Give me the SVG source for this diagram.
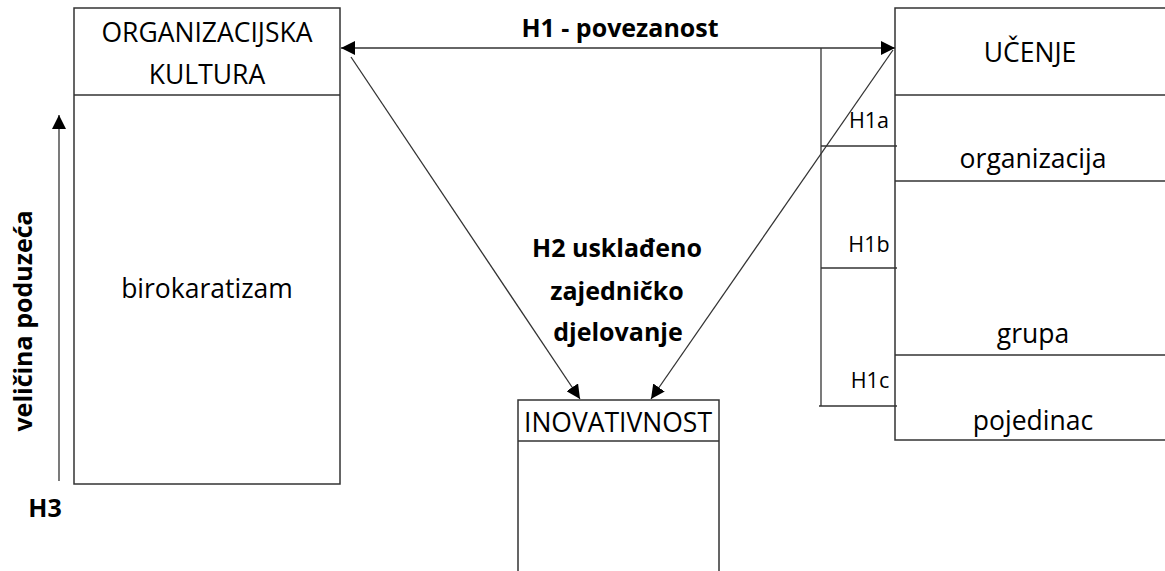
<svg xmlns="http://www.w3.org/2000/svg" width="1165" height="571" viewBox="0 0 1165 571">
<style>
.box{fill:#fff;stroke:#333;stroke-width:1.5}
.ln{stroke:#333;stroke-width:1.3;fill:none}
.t{font-family:"Open Sans","Liberation Sans",sans-serif;font-size:26.5px;fill:#000;text-anchor:middle}
.b{font-weight:bold;font-size:25px}
.s{font-size:21.5px}
</style>
<defs>
<marker id="ah" viewBox="0 0 10 10" refX="10" refY="5" markerWidth="14" markerHeight="14" markerUnits="userSpaceOnUse" orient="auto-start-reverse">
<path d="M0,0 L10,5 L0,10 z" fill="#000"/>
</marker>
</defs>
<g id="org-kultura">
<rect class="box" x="74" y="8" width="266" height="476"/>
<line class="ln" x1="74" y1="95" x2="340" y2="95"/>
<text class="t" x="207" y="42">ORGANIZACIJSKA</text>
<text class="t" x="207" y="84">KULTURA</text>
<text class="t" x="207" y="298">birokaratizam</text>
</g>
<g id="ucenje">
<rect class="box" x="895" y="8" width="275" height="432"/>
<line class="ln" x1="895" y1="95" x2="1165" y2="95"/>
<line class="ln" x1="895" y1="181" x2="1165" y2="181"/>
<line class="ln" x1="895" y1="355" x2="1165" y2="355"/>
<text class="t" x="1030" y="62">UČENJE</text>
<text class="t" x="1033" y="168">organizacija</text>
<text class="t" x="1033" y="343">grupa</text>
<text class="t" x="1033" y="430">pojedinac</text>
</g>
<g id="inovativnost">
<rect class="box" x="518" y="400" width="201" height="180"/>
<line class="ln" x1="518" y1="441" x2="719" y2="441"/>
<text class="t" x="618" y="432">INOVATIVNOST</text>
</g>
<g id="connectors">
<line class="ln" x1="341" y1="48" x2="895" y2="48" marker-start="url(#ah)" marker-end="url(#ah)"/>
<line class="ln" x1="351" y1="57" x2="580" y2="399" marker-end="url(#ah)"/>
<line class="ln" x1="893" y1="50" x2="651" y2="399" marker-end="url(#ah)"/>
<line class="ln" x1="59" y1="481" x2="59" y2="115" marker-end="url(#ah)"/>
<polyline class="ln" points="821,48 821,406"/>
<line class="ln" x1="821" y1="146" x2="897" y2="146"/>
<line class="ln" x1="821" y1="268" x2="897" y2="268"/>
<line class="ln" x1="819" y1="406" x2="897" y2="406"/>
</g>
<g id="labels">
<text class="t b" x="620" y="37">H1 - povezanost</text>
<text class="t b" x="617" y="257">H2 usklađeno</text>
<text class="t b" x="617" y="300">zajedničko</text>
<text class="t b" x="618" y="341">djelovanje</text>
<text class="t b" transform="translate(32,321) rotate(-90)">veličina poduzeća</text>
<text class="t b" x="45" y="517">H3</text>
<text class="t s" x="869" y="128">H1a</text>
<text class="t s" x="869" y="252">H1b</text>
<text class="t s" x="870" y="388">H1c</text>
</g>
</svg>
